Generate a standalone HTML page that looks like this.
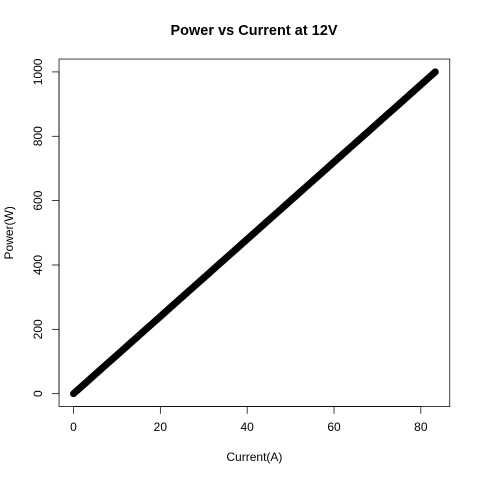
<!DOCTYPE html>
<html>
<head>
<meta charset="utf-8">
<title>Power vs Current at 12V</title>
<style>
html,body{margin:0;padding:0;background:#fff;width:480px;height:480px;overflow:hidden}
svg{display:block}
text{font-family:"Liberation Sans",sans-serif;fill:#000}
</style>
</head>
<body>
<svg id="chart" xmlns="http://www.w3.org/2000/svg" width="480" height="480" viewBox="0 0 480 480">
<rect x="0" y="0" width="480" height="480" fill="#fff"/>
<text x="254" y="35" font-size="14.4" font-weight="bold" text-anchor="middle" textLength="167">Power vs Current at 12V</text>
<text x="254.4" y="461" font-size="12" text-anchor="middle">Current(A)</text>
<text transform="translate(13,232.8) rotate(-90)" font-size="12" text-anchor="middle">Power(W)</text>
<g id="marks"></g>
<rect x="59.04" y="59.04" width="390.72" height="347.52" fill="none" stroke="#000" stroke-width="0.75"/>
<g id="x-axis"></g>
<g id="y-axis"></g>
</svg>
<script>
const currentValues = [0,2,4,6,8,10,12,14,16,18,20,22,24,26,28,30,32,34,36,38,40,42,44,46,48,50,52,54,56,58,60,62,64,66,68,70,72,74,76,78,80,82,83.33];
const powerValues = [0,24,48,72,96,120,144,168,192,216,240,264,288,312,336,360,384,408,432,456,480,504,528,552,576,600,624,648,672,696,720,744,768,792,816,840,864,888,912,936,960,984,1000];
const xTickValues = [0,20,40,60,80];
const yTickValues = [0,200,400,600,800,1000];

const NS = 'http://www.w3.org/2000/svg';
const plot = {left:59.04, right:449.76, top:59.04, bottom:406.56};
const xMin = Math.min(...currentValues), xMax = Math.max(...currentValues);
const yMin = Math.min(...powerValues), yMax = Math.max(...powerValues);
const xPad = (xMax - xMin) * 0.04, yPad = (yMax - yMin) * 0.04;
function xScale(v){ return plot.left + (v - (xMin - xPad)) / ((xMax + xPad) - (xMin - xPad)) * (plot.right - plot.left); }
function yScale(v){ return plot.bottom - (v - (yMin - yPad)) / ((yMax + yPad) - (yMin - yPad)) * (plot.bottom - plot.top); }
function make(tag, attrs){
  const el = document.createElementNS(NS, tag);
  for (const k in attrs) el.setAttribute(k, attrs[k]);
  return el;
}

const marks = document.getElementById('marks');
const pts = currentValues.map((c,i) => xScale(c).toFixed(2) + ',' + yScale(powerValues[i]).toFixed(2)).join(' ');
const line = make('polyline', {points:pts, fill:'none', stroke:'#000', 'stroke-width':7, 'stroke-linecap':'round', 'stroke-linejoin':'round'});


marks.appendChild(line);

const xAxis = document.getElementById('x-axis');
const xAxisLine = make('line', {x1:xScale(xTickValues[0]), x2:xScale(xTickValues[xTickValues.length-1]), y1:plot.bottom, y2:plot.bottom, stroke:'#000', 'stroke-width':0.75});


xAxis.appendChild(xAxisLine);
xTickValues.forEach(v => {
  const x = xScale(v);
  const tick = make('line', {x1:x, x2:x, y1:plot.bottom, y2:plot.bottom + 7.2, stroke:'#000', 'stroke-width':0.75});
  
  
  xAxis.appendChild(tick);
  const label = make('text', {x:x, y:431, 'font-size':12, 'text-anchor':'middle'});
  
  
  label.textContent = v;
  xAxis.appendChild(label);
});

const yAxis = document.getElementById('y-axis');
const yAxisLine = make('line', {x1:plot.left, x2:plot.left, y1:yScale(yTickValues[0]), y2:yScale(yTickValues[yTickValues.length-1]), stroke:'#000', 'stroke-width':0.75});


yAxis.appendChild(yAxisLine);
yTickValues.forEach(v => {
  const y = yScale(v);
  const tick = make('line', {x1:plot.left - 7.2, x2:plot.left, y1:y, y2:y, stroke:'#000', 'stroke-width':0.75});
  
  
  yAxis.appendChild(tick);
  const label = make('text', {'font-size':12, 'text-anchor':'middle', transform:'translate(42,' + y + ') rotate(-90)'});
  
  
  label.textContent = v;
  yAxis.appendChild(label);
});
</script>
</body>
</html>
